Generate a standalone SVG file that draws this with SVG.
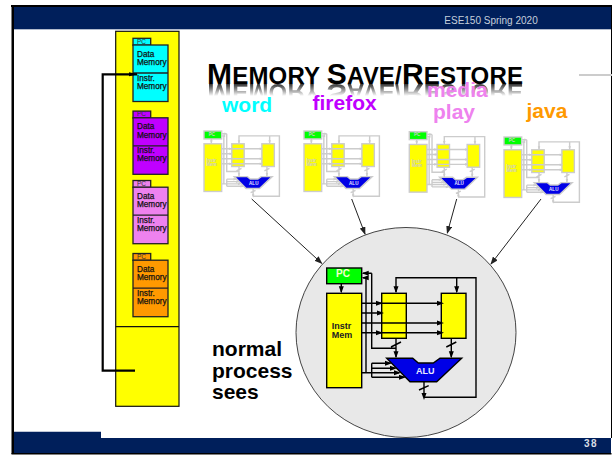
<svg xmlns="http://www.w3.org/2000/svg" xmlns:xlink="http://www.w3.org/1999/xlink" width="613" height="455" viewBox="0 0 613 455">
<style>
text{font-family:"Liberation Sans",Arial,sans-serif}
.bar{fill:#001f5b}
.blk{fill:#000}
.big{color:#000;stroke-width:1.4}
.mini{color:#ccc;stroke-width:2.8}
.box{stroke:currentColor;stroke-linejoin:miter}
.y{fill:#ff0}.g{fill:#0f0}.b{fill:#0000e6}
.wire{fill:none;stroke:currentColor}
.head{fill:currentColor;stroke:none}
.lab{font-size:21px;font-weight:700}
.mem{font-size:8.2px;fill:#111;stroke:#111;stroke-width:.25}
.pc{font-size:6.5px;fill:#333}
.tag{font-weight:700;font-size:9px}
.pb{stroke:#222;stroke-width:1.3}
.link{fill:none;stroke:#222;stroke-width:1}
</style>
<defs>
<linearGradient id="fade" gradientUnits="userSpaceOnUse" x1="0" y1="84" x2="0" y2="96">
<stop offset="0" stop-color="#fff" stop-opacity=".8"/><stop offset="1" stop-color="#fff" stop-opacity="0"/>
</linearGradient>
<mask id="refl" maskUnits="userSpaceOnUse" x="200" y="84" width="330" height="14"><rect x="200" y="84" width="330" height="14" fill="url(#fade)"/></mask>
<filter id="soft" x="-5%" y="-20%" width="110%" height="140%"><feGaussianBlur stdDeviation=".6"/></filter>
<marker id="arr" markerWidth="8" markerHeight="6" refX="7" refY="3" orient="auto" markerUnits="userSpaceOnUse"><path d="M0 0L8 3L0 6z" fill="#222"/></marker>
<marker id="arrT" markerWidth="9" markerHeight="6" refX="8" refY="3" orient="auto" markerUnits="userSpaceOnUse"><path d="M0 1L9 3L0 5z" fill="#000"/></marker>
<g id="b-pc"><rect class="box g" x="326.7" y="268" width="35" height="15.7"/></g>
<g id="b-instr"><rect class="box y" x="326.7" y="293.3" width="35" height="94.4"/></g>
<g id="b-reg1"><rect class="box y" x="381.7" y="293.3" width="24.6" height="45"/></g>
<g id="b-reg2"><rect class="box y" x="441.3" y="293.3" width="24.7" height="45"/></g>
<g id="b-alu"><path class="box b" d="M386.7 358.3H412.7L418.3 363H433.3L440 358.3H461.7L436.7 381.7H410z"/></g>
<g id="b-all"><use href="#b-pc"/><use href="#b-instr"/><use href="#b-reg1"/><use href="#b-reg2"/><use href="#b-alu"/></g>
<g id="wires">
<path class="wire" d="M424 381.7V397M424 397.3H476V277.7H396V292M456.7 277.7V292M361.7 303.3H442M361.7 313H382M361.7 323H442M361.7 332.7H442M341.3 283.7V292M396 338.3V357M451.3 338.3V357M371.7 273.3H363M371.7 273.3V348.3H396M366 277.7H363M366 277.7V372.7M361.7 372.7H371.7M371.7 363.3V377.3M371.7 363.3H390M371.7 368.3H395M371.7 372.7H399M371.7 377.3H404M391 347L401 342M446.3 347L456.3 342M419 390L428.7 385.7"/>
<path class="head" d="M424 400l-2.5-7h5zM396 293.3l-2.5-7h5zM456.7 293.3l-2.5-7h5zM341.3 293.3l-2.5-7h5zM396 358.3l-2.5-7h5zM451.3 358.3l-2.5-7h5zM383 303.3l-7-2.5v5zM444 303.3l-7-2.5v5zM384 313l-7-2.5v5zM444 323l-7-2.5v5zM383 332.7l-7-2.5v5zM444 332.7l-7-2.5v5zM361.7 273.3l7-2.5v5zM361.7 277.7l7-2.5v5zM392 363.3l-7-2.5v5zM397 368.3l-7-2.5v5zM401 372.7l-7-2.5v5zM406 377.3l-7-2.5v5z"/>
</g>
<g id="procbox"><rect class="pb" x="133" y="38.3" width="17.7" height="6.9"/><rect class="pb" x="133" y="45" width="35" height="56.5"/><line class="pb" x1="133" y1="73" x2="168" y2="73"/></g>
</defs>

<rect width="613" height="455" fill="#fff"/>
<g id="frame">
<rect class="bar" x="12" y="7" width="600" height="22.3"/>
<rect class="blk" x="11" y="5" width="601" height="2"/>
<rect class="blk" x="11.5" y="5" width="2.5" height="449"/>
<rect class="blk" x="611" y="7" width="1" height="431"/>
<path class="bar" d="M14 431.7H101V438H611V453H14z"/>
<rect class="blk" x="11.5" y="453" width="600" height="1.5"/>
<rect x="579" y="74" width="33" height="2" fill="#ccc"/>
<text x="444.3" y="24" font-size="10" fill="#c6cfdc">ESE150 Spring 2020</text>
<text x="584" y="447" font-size="10" font-weight="700" letter-spacing="1.5" fill="#d8dde6">38</text>
</g>

<g id="memory-column">
<rect x="115.7" y="31.3" width="63.3" height="375" fill="#ff0" stroke="#111" stroke-width="1.2"/>
<line x1="115.7" y1="326.7" x2="179" y2="326.7" stroke="#111" stroke-width="1.2"/>
</g>
<g id="proc-word" fill="#0ff">
<use href="#procbox"/>
<text class="pc" x="137" y="43.6">PC</text>
<text class="mem" x="137" y="56.7">Data</text><text class="mem" x="137" y="65">Memory</text>
<text class="mem" x="137" y="80.7">Instr.</text><text class="mem" x="137" y="88.7">Memory</text>
</g>
<g id="proc-firefox" fill="#c000ff" transform="translate(0,72.8)">
<use href="#procbox"/>
<text class="pc" x="137" y="43.6">PC</text>
<text class="mem" x="137" y="56.7">Data</text><text class="mem" x="137" y="65">Memory</text>
<text class="mem" x="137" y="80.7">Instr.</text><text class="mem" x="137" y="88.7">Memory</text>
</g>
<g id="proc-media" fill="#ee82ee" transform="translate(0,142.2)">
<use href="#procbox"/>
<text class="pc" x="137" y="43.6">PC</text>
<text class="mem" x="137" y="56.7">Data</text><text class="mem" x="137" y="65">Memory</text>
<text class="mem" x="137" y="80.7">Instr.</text><text class="mem" x="137" y="88.7">Memory</text>
</g>
<g id="proc-java" fill="#ff9900" transform="translate(0,215.2)">
<use href="#procbox"/>
<text class="pc" x="137" y="43.6">PC</text>
<text class="mem" x="137" y="56.7">Data</text><text class="mem" x="137" y="65">Memory</text>
<text class="mem" x="137" y="80.7">Instr.</text><text class="mem" x="137" y="88.7">Memory</text>
</g>

<g id="title">
<text id="title-text" x="207" y="84" font-size="24" font-weight="700" fill="#000" textLength="316" lengthAdjust="spacing"><tspan font-size="30">M</tspan>EMORY <tspan font-size="30">S</tspan>AVE/<tspan font-size="30">R</tspan>ESTORE</text>
<g mask="url(#refl)"><use href="#title-text" transform="translate(0,168) scale(1,-1)" filter="url(#soft)"/></g>
</g>
<text id="label-word" class="lab" x="222" y="112" fill="#0ff">word</text>
<text id="label-firefox" class="lab" x="312.5" y="109.5" fill="#c000ff">firefox</text>
<text id="label-media" class="lab" x="427" y="97" fill="#ee82ee">media</text>
<text id="label-play" class="lab" x="433" y="118.5" fill="#ee82ee">play</text>
<text id="label-java" class="lab" x="526.5" y="118" fill="#ff9900">java</text>

<g id="mini-word" transform="translate(204,131) scale(.505) translate(-326.7,-268)">
<use href="#b-all" class="mini"/><use href="#wires" class="mini"/>
<text x="336" y="277" class="tag" fill="#ccc">PC</text><text x="331.7" y="329.3" class="tag" fill="#ccc">Instr</text><text x="331.7" y="338" class="tag" fill="#ccc">Mem</text><text x="416" y="374" class="tag" fill="#e8e8ff">ALU</text>
</g>
<g id="mini-firefox" transform="translate(304,131) scale(.505) translate(-326.7,-268)">
<use href="#b-all" class="mini"/><use href="#wires" class="mini"/>
<text x="336" y="277" class="tag" fill="#ccc">PC</text><text x="331.7" y="329.3" class="tag" fill="#ccc">Instr</text><text x="331.7" y="338" class="tag" fill="#ccc">Mem</text><text x="416" y="374" class="tag" fill="#e8e8ff">ALU</text>
</g>
<g id="mini-media" transform="translate(409.3,131.7) scale(.505) translate(-326.7,-268)">
<use href="#b-all" class="mini"/><use href="#wires" class="mini"/>
<text x="336" y="277" class="tag" fill="#ccc">PC</text><text x="331.7" y="329.3" class="tag" fill="#ccc">Instr</text><text x="331.7" y="338" class="tag" fill="#ccc">Mem</text><text x="416" y="374" class="tag" fill="#e8e8ff">ALU</text>
</g>
<g id="mini-java" transform="translate(504,137) scale(.505) translate(-326.7,-268)">
<use href="#b-all" class="mini"/><use href="#wires" class="mini"/>
<text x="336" y="277" class="tag" fill="#ccc">PC</text><text x="331.7" y="329.3" class="tag" fill="#ccc">Instr</text><text x="331.7" y="338" class="tag" fill="#ccc">Mem</text><text x="416" y="374" class="tag" fill="#e8e8ff">ALU</text>
</g>

<ellipse id="machine" cx="406" cy="332.5" rx="110" ry="105" fill="#e8e8e8" stroke="#444" stroke-width="1"/>
<g id="pc"><use href="#b-pc" class="big"/><text x="336" y="277" class="tag" font-size="10" style="font-size:10px" fill="#f4ffd0">PC</text></g>
<g id="instr-mem"><use href="#b-instr" class="big"/><text x="331.7" y="329.3" class="tag" fill="#222">Instr</text><text x="331.7" y="338" class="tag" fill="#222">Mem</text></g>
<g id="reg-a"><use href="#b-reg1" class="big"/></g>
<g id="reg-b"><use href="#b-reg2" class="big"/></g>
<g id="alu"><use href="#b-alu" class="big"/><text x="416" y="374" class="tag" fill="#e8e8ff">ALU</text></g>

<g id="connectors">
<use href="#wires" class="big"/>
<path class="link" marker-end="url(#arr)" d="M251.7 199L321.7 263.3"/>
<path class="link" marker-end="url(#arr)" d="M351.7 199L365 234"/>
<path class="link" marker-end="url(#arr)" d="M456.7 199L447.3 233"/>
<path class="link" marker-end="url(#arr)" d="M541 199L491 264"/>
<path fill="none" stroke="#000" stroke-width="2.2" marker-end="url(#arrT)" d="M135 370.7H102.7V74.3H137"/>
</g>

<g id="caption" font-size="21" font-weight="700" fill="#000">
<text x="212" y="356">normal</text>
<text x="212" y="378">process</text>
<text x="212" y="399">sees</text>
</g>
</svg>
